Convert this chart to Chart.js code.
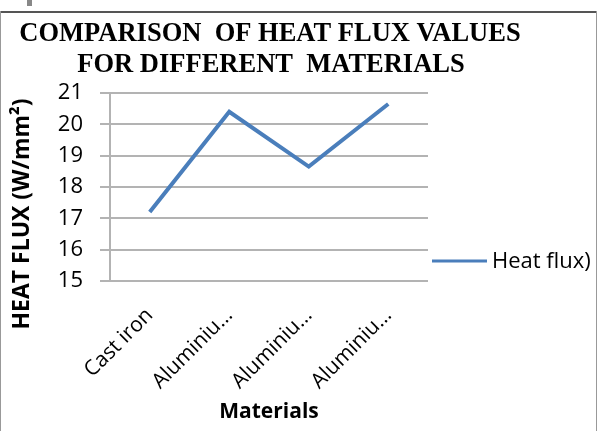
<!DOCTYPE html>
<html>
<head>
<meta charset="utf-8">
<script src="https://cdn.jsdelivr.net/npm/chart.js@4"></script>
<style>
    html, body { margin: 0; padding: 0; background: #fff; }
    #wrap { position: relative; width: 597px; height: 431px; overflow: hidden; }
    .frame-top { position: absolute; left: 0; top: 11px; width: 597px; height: 2px; background: #555; }
    .frame-left { position: absolute; left: 0; top: 11px; width: 1px; height: 420px; background: #999; }
    .frame-right { position: absolute; left: 596px; top: 11px; width: 1px; height: 420px; background: #999; }
    .marker { position: absolute; left: 27px; top: 0; width: 5px; height: 6px; background: #888; }
    canvas { position: absolute; left: 0; top: 0; }
</style>
</head>
<body>
<div id="wrap">
    <div class="frame-top"></div>
    <div class="frame-left"></div>
    <div class="frame-right"></div>
    <div class="marker"></div>
    <canvas id="chart" width="597" height="431"></canvas>
</div>
<script>
// Chart data
const materials = ['Cast iron', 'Aluminiu…', 'Aluminiu…', 'Aluminiu…'];
const heatFlux = [17.2, 20.4, 18.65, 20.65];
const yTicks = [15, 16, 17, 18, 19, 20, 21];
const titleLines = ['COMPARISON  OF HEAT FLUX VALUES', 'FOR DIFFERENT  MATERIALS'];
const seriesName = 'Heat flux)';
const yTitle = 'HEAT FLUX (W/mm²)';
const xTitle = 'Materials';

const lineColor = '#4a7ebb';
const gridColor = '#b3b3b3';

// Draws the title, rotated y-axis title and the legend at their own spots
const extrasPlugin = {
    id: 'extras',
    afterDraw(chart) {
        const ctx = chart.ctx;
        ctx.save();

        // title
        ctx.fillStyle = '#000';
        ctx.font = 'bold 26.5px "Liberation Serif"';
        ctx.textAlign = 'center';
        ctx.textBaseline = 'alphabetic';
        ctx.fillText(titleLines[0], 270, 41);
        ctx.fillText(titleLines[1], 271, 72);

        // y-axis title
        ctx.save();
        ctx.translate(22, 214);
        ctx.rotate(-Math.PI / 2);
        ctx.font = 'bold 23px "Open Sans"';
        ctx.textAlign = 'center';
        ctx.textBaseline = 'middle';
        ctx.fillText(yTitle, 0, 0);
        ctx.restore();

        // legend
        const ds = chart.data.datasets[0];
        ctx.strokeStyle = ds.borderColor;
        ctx.lineWidth = 3;
        ctx.beginPath();
        ctx.moveTo(432, 261);
        ctx.lineTo(487, 261);
        ctx.stroke();
        ctx.fillStyle = '#000';
        ctx.font = '22px "Open Sans"';
        ctx.textAlign = 'left';
        ctx.textBaseline = 'middle';
        ctx.fillText(ds.label, 492, 262);

        ctx.restore();
    }
};

const ctx = document.getElementById('chart').getContext('2d');
const chart = new Chart(ctx, {
    type: 'line',
    data: {
        labels: materials,
        datasets: [{
            label: seriesName,
            data: heatFlux,
            borderColor: lineColor,
            backgroundColor: lineColor,
            borderWidth: 4,
            pointRadius: 0,
            tension: 0
        }]
    },
    options: {
        responsive: false,
        animation: false,
        layout: {
            padding: { left: 0, top: 93, right: 169, bottom: 0 }
        },
        plugins: {
            legend: { display: false },
            title: { display: false },
            tooltip: { enabled: false }
        },
        scales: {
            x: {
                offset: true,
                grid: { display: false },
                border: { display: false },
                ticks: {
                    color: '#000',
                    font: { family: 'Open Sans', size: 21 },
                    minRotation: 45,
                    maxRotation: 45,
                    padding: 14
                },
                title: {
                    display: true,
                    text: xTitle,
                    color: '#000',
                    font: { family: 'Open Sans', size: 21, weight: 'bold' },
                    padding: { top: 0, bottom: 6 }
                },
                afterFit(scale) { scale.height = 150; }
            },
            y: {
                min: 15,
                max: 21,
                afterBuildTicks(scale) {
                    scale.ticks = yTicks.map(v => ({ value: v }));
                },
                grid: {
                    color: gridColor,
                    lineWidth: 2,
                    tickLength: 10
                },
                border: { display: true, color: gridColor, width: 2 },
                ticks: {
                    color: '#000',
                    font: { family: 'Open Sans', size: 22 },
                    padding: 17
                },
                afterFit(scale) { scale.width = 110; }
            }
        }
    },
    plugins: [extrasPlugin]
});
</script>
</body>
</html>
